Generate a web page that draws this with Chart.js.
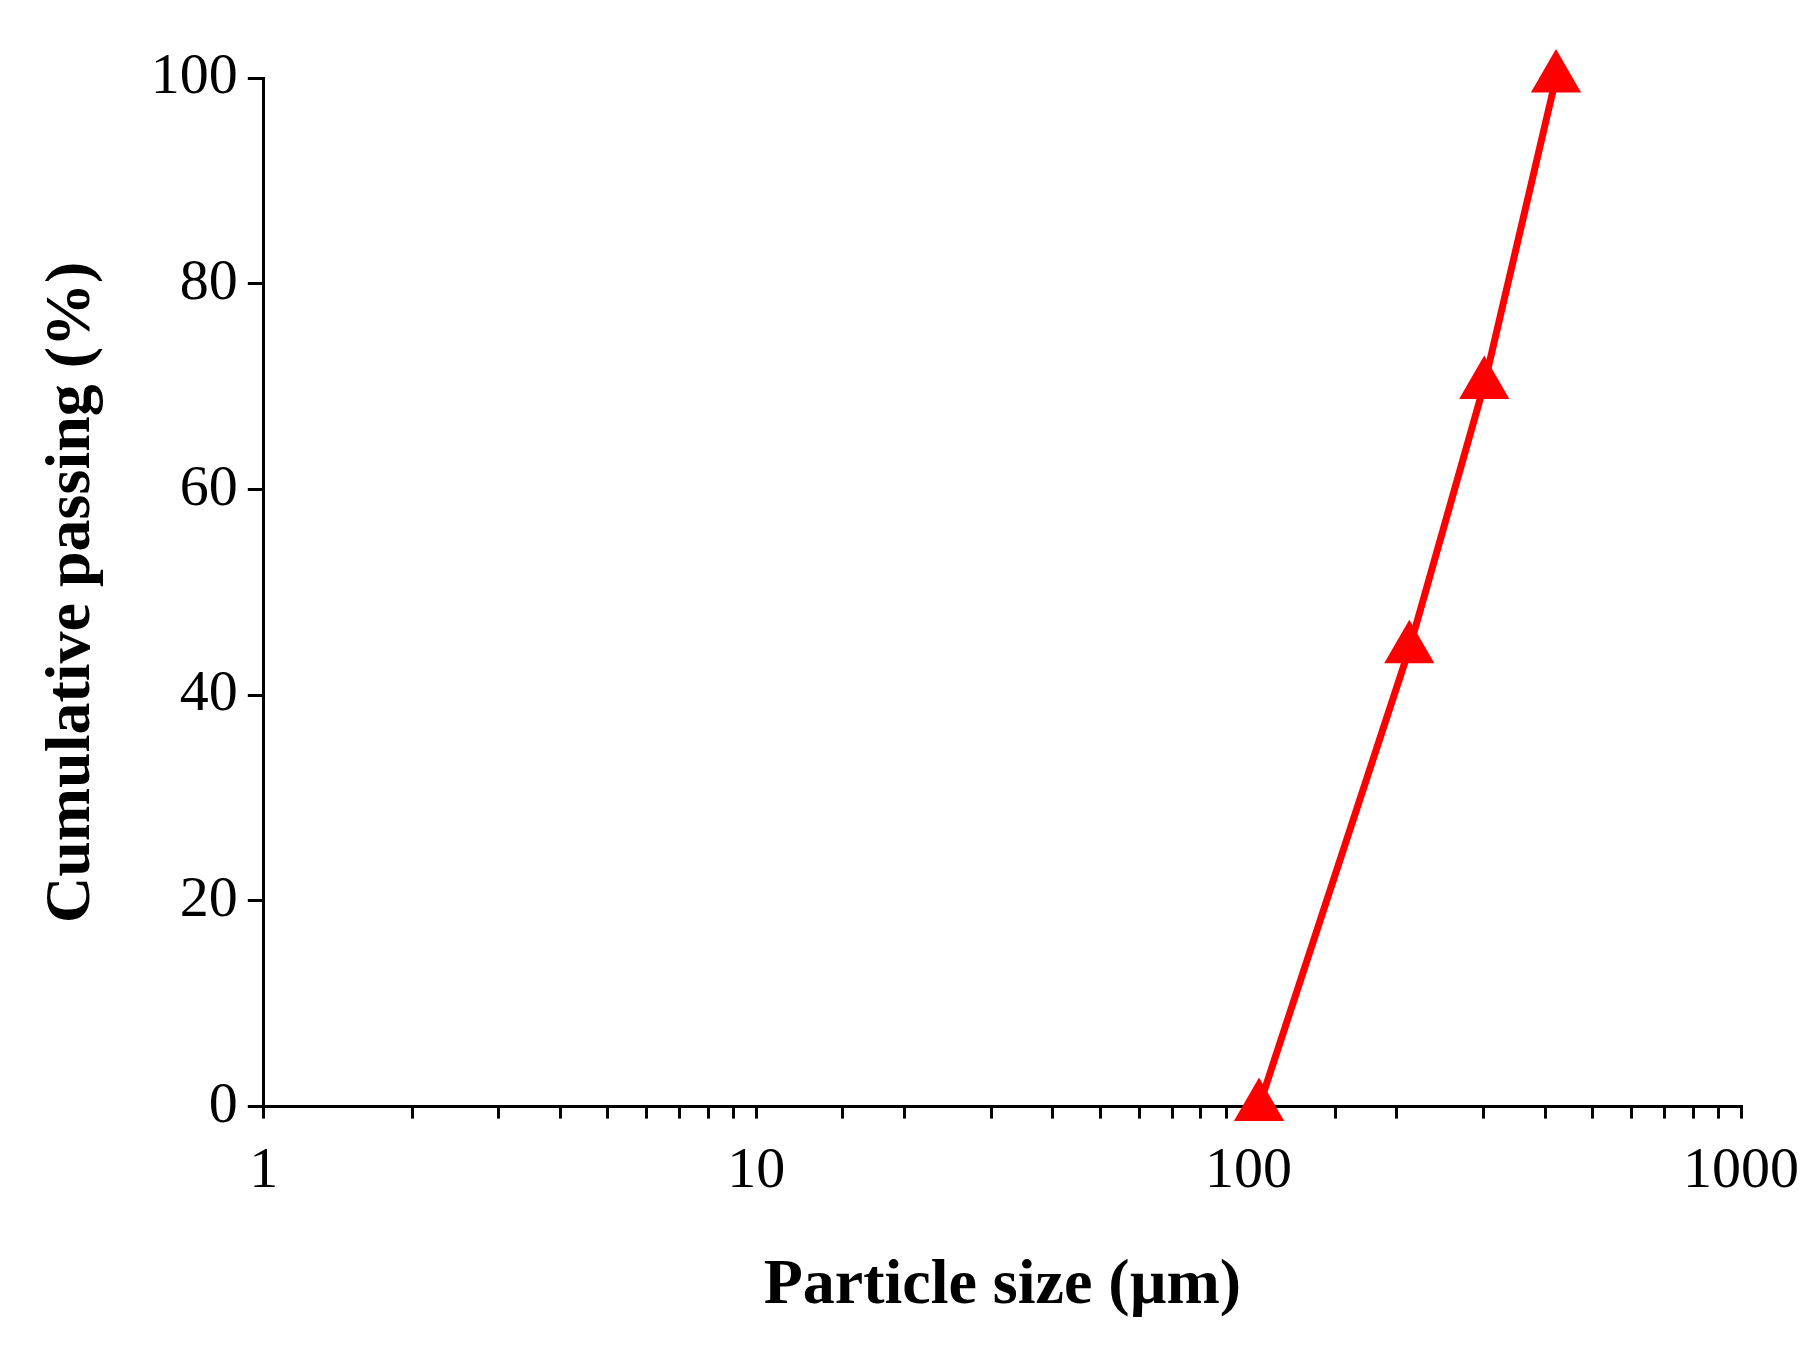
<!DOCTYPE html>
<html><head><script src="https://cdn.jsdelivr.net/npm/chart.js@4"></script>
<style>html,body{margin:0;background:#fff}#w{width:1817px;height:1349px}</style></head>
<body><div id="w"><canvas id="c"></canvas></div>
<script>
const sizes=[105,212,301,421];
const passing=[0,44.5,70.2,100];
const xTickLabels=[1,10,100,1000];
const yTicks=[0,20,40,60,80,100];
const F='"Liberation Serif","Times New Roman",serif';
new Chart(document.getElementById('c'),{type:'line',
data:{datasets:[{data:sizes.map((x,i)=>({x,y:passing[i]})),borderColor:'#ff0000',backgroundColor:'#ff0000',borderWidth:7,pointStyle:'triangle',pointRadius:22,pointHoverRadius:22,tension:0,clip:false}]},
options:{responsive:true,maintainAspectRatio:false,animation:false,
layout:{padding:{left:30,right:72,top:78,bottom:20}},
plugins:{legend:{display:false},tooltip:{enabled:false}},
scales:{
x:{type:'logarithmic',min:1,max:1000,
border:{color:'#000',width:3},
grid:{drawOnChartArea:false,drawTicks:true,tickLength:12,color:'#000',lineWidth:3},
ticks:{autoSkip:false,maxRotation:0,color:'#000',font:{family:F,size:58},padding:18,
callback:v=>xTickLabels.includes(v)?String(v):''},
title:{display:true,text:'Particle size (µm)',color:'#000',font:{family:F,size:64,weight:'bold'},padding:{top:24}}},
y:{min:0,max:100,
border:{color:'#000',width:3},
grid:{drawOnChartArea:false,drawTicks:true,tickLength:16,color:'#000',lineWidth:3},
afterBuildTicks:a=>{a.ticks=yTicks.map(v=>({value:v}))},
ticks:{color:'#000',font:{family:F,size:58},padding:10},
title:{display:true,text:'Cumulative passing (%)',color:'#000',font:{family:F,size:64,weight:'bold'},padding:{bottom:30}}}}}});
</script></body></html>
